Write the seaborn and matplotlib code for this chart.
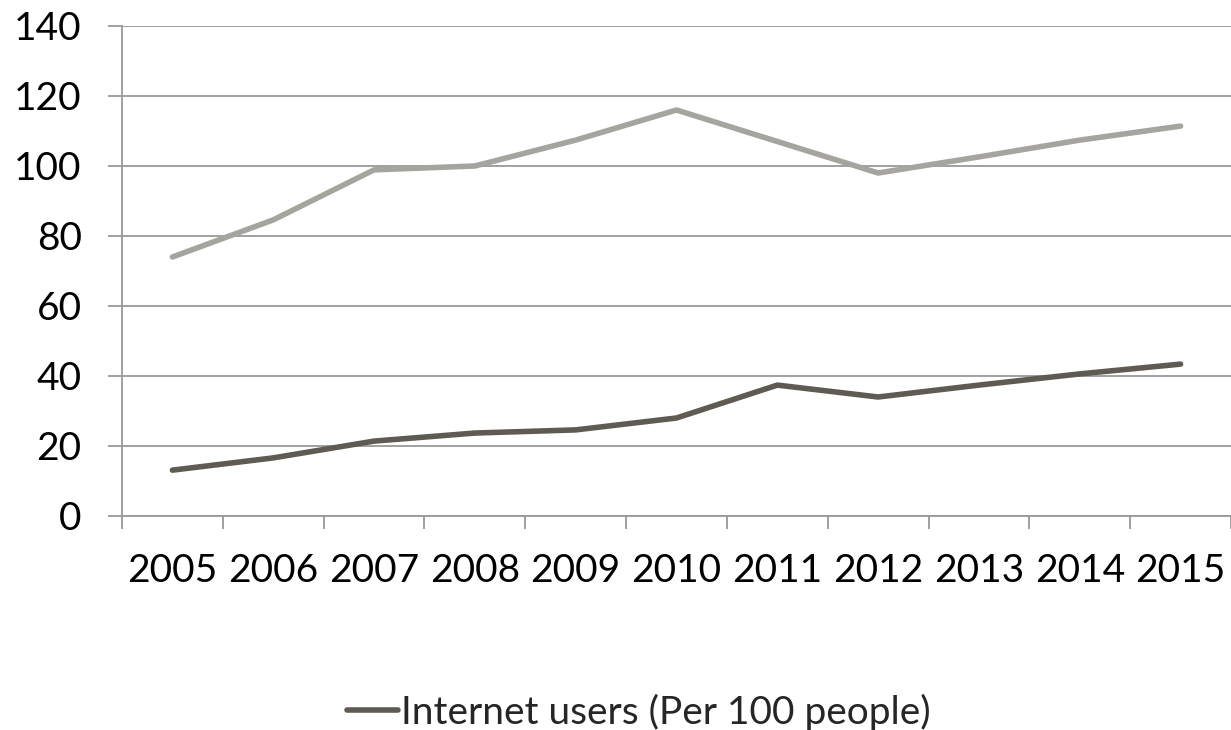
import matplotlib
matplotlib.use("Agg")
import matplotlib.pyplot as plt
import seaborn as sns
import pandas as pd
import numpy as np

years = ["2005", "2006", "2007", "2008", "2009", "2010", "2011", "2012", "2013", "2014", "2015"]
internet_users = [13.1, 16.6, 21.4, 23.7, 24.6, 28.0, 37.4, 34.0, 37.4, 40.6, 43.4]
other_series = [74.0, 84.6, 98.9, 100.0, 107.4, 116.0, 107.0, 98.0, 102.6, 107.4, 111.4]

sns.set_theme(style="white")
plt.rcParams['font.family'] = ['Lato', 'DejaVu Sans']

df = pd.DataFrame({"year": years, "internet": internet_users, "other": other_series})
df["pos"] = np.arange(len(years))

fig = plt.figure(figsize=(12.31, 7.30), dpi=100)
ax = fig.add_axes([122/1231, (730-516)/730, 1 - 122/1231, (516-26)/730])

sns.lineplot(data=df, x="pos", y="other", ax=ax, color="#a6a49e", linewidth=4,
             solid_capstyle="round", label="_nolegend_")
sns.lineplot(data=df, x="pos", y="internet", ax=ax, color="#5f5a52", linewidth=4,
             solid_capstyle="round", label="Internet users (Per 100 people)")

ax.set_xlim(-0.5, len(years) - 0.5)
ax.set_ylim(0, 140)
ax.set_yticks(range(0, 141, 20))
ax.grid(axis="y", color="#999999", linewidth=1.3)
ax.set_axisbelow(True)
ax.set_xticks(df["pos"])
ax.set_xticklabels(years)
ax.set_xticks(np.arange(-0.5, len(years), 1.0), minor=True)
ax.tick_params(axis="x", which="major", bottom=True, length=0, pad=27, labelsize=28, labelcolor="black")
ax.tick_params(axis="x", which="minor", bottom=True, length=9, width=1.3, color="#999999")
ax.tick_params(axis="y", left=True, length=10, width=1.3, color="#999999", pad=19, labelsize=28, labelcolor="black")
ax.set_xlabel("")
ax.set_ylabel("")
for s in ["top", "right"]:
    ax.spines[s].set_visible(False)
for s in ["left", "bottom"]:
    ax.spines[s].set_color("#999999")
    ax.spines[s].set_linewidth(1.3)

leg = ax.legend(loc="center", bbox_to_anchor=((639-122)/1109, (730-712-214)/490), frameon=False,
                fontsize=28, handlelength=1.3, handletextpad=0.1)

fig.savefig("out.png", dpi=100)
